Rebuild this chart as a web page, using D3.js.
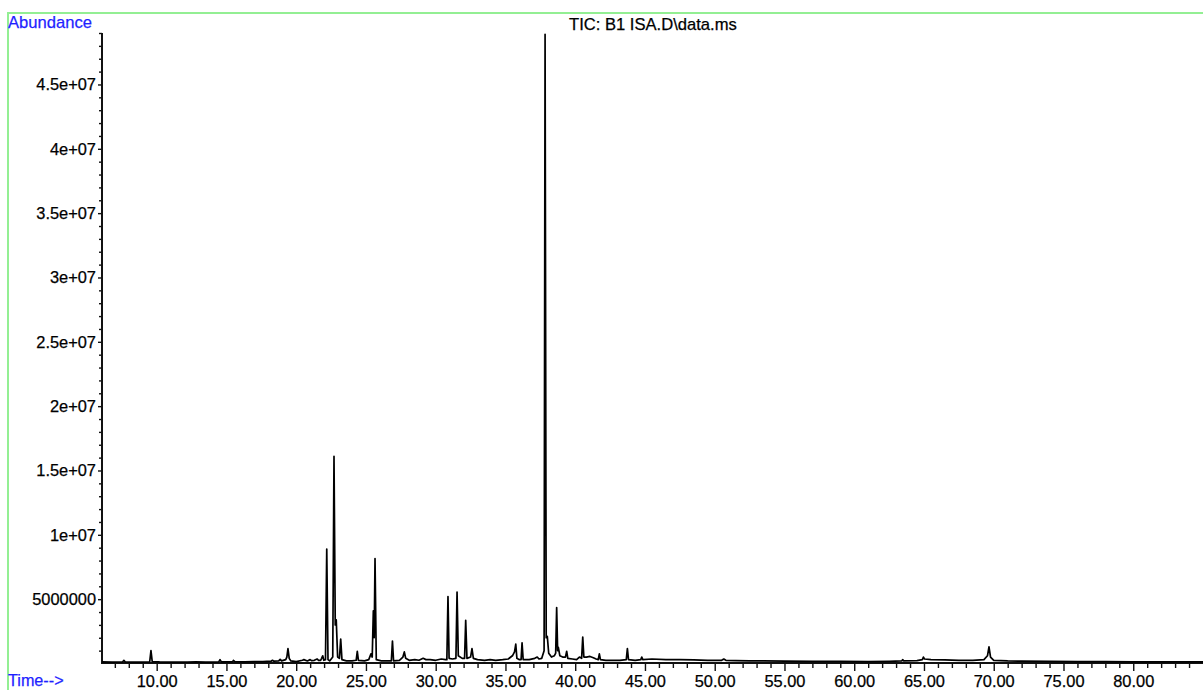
<!DOCTYPE html>
<html>
<head>
<meta charset="utf-8">
<script src="https://cdn.jsdelivr.net/npm/d3@7"></script>
<style>
  html, body { margin: 0; padding: 0; background: #fff; }
  svg { display: block; }
  text { font-family: "Liberation Sans", Arial, sans-serif; }
</style>
</head>
<body>
<svg id="chart" width="1203" height="690"></svg>
<script>
// Retention time (min)
const times = [
  6.08, 6.8, 7.55, 7.65, 7.75, 8.5, 9.0, 9.5, 9.59, 9.68, 10.2, 10.9, 11.5, 12.2, 12.8, 13.5, 14.0,
  14.45, 14.54, 14.63, 15.2, 15.45, 15.5, 15.6, 16.3, 17.0, 17.6, 18.2, 18.3, 18.4, 18.75, 18.85, 18.95,
  19.25, 19.33, 19.41, 19.5, 19.62, 20.0, 20.45, 20.55, 20.8, 21.0, 21.1, 21.3, 21.5, 21.6, 21.75,
  21.82, 21.9, 21.98, 22.1, 22.19, 22.28, 22.4, 22.62, 22.71, 22.8, 22.87, 22.97, 23.1, 23.19, 23.28,
  23.6, 24.0, 24.3, 24.38, 24.46, 24.9, 25.2, 25.36, 25.45, 25.53, 25.59, 25.65, 25.74, 26.1, 26.5,
  26.82, 26.9, 26.98, 27.4, 27.65, 27.75, 27.85, 28.1, 28.5, 28.8, 29.1, 29.3, 29.6, 30.0, 30.4, 30.7,
  30.8, 30.88, 30.96, 31.2, 31.45, 31.53, 31.62, 31.9, 32.07, 32.15, 32.24, 32.5, 32.6, 32.7,
  33.0, 33.5, 33.9, 34.3, 34.8, 35.2, 35.5, 35.65, 35.74, 35.82, 36.0, 36.12, 36.19, 36.27,
  36.7, 37.1, 37.28, 37.4, 37.6, 37.77, 37.84, 37.92, 38.0, 38.1, 38.3, 38.5, 38.6, 38.67, 38.74,
  38.79, 38.9, 39.1, 39.3, 39.39, 39.47, 39.8, 40.1, 40.3, 40.46, 40.54, 40.62, 40.8, 41.06, 41.3,
  41.5, 41.65, 41.73, 41.81, 42.2, 42.7, 43.2, 43.66, 43.74, 43.82, 44.3, 44.7, 44.77, 44.85,
  45.5, 46.5, 47.5, 48.5, 49.5, 50.5, 50.65, 50.8, 51.5, 52.5, 53.5, 55.0, 57.0, 59.0, 61.0, 62.5,
  63.4, 63.47, 63.55, 64.5, 64.88, 64.96, 65.04, 65.5, 66.5, 67.5, 68.5, 69.3, 69.55, 69.66, 69.77,
  70.0, 71.0, 72.0, 74.0, 76.0, 78.0, 80.0, 82.0, 84.0, 85.0
];
// Total ion current abundance
const abundance = [
  120000, 100000, 120000, 250000, 120000, 100000, 110000, 120000, 1000000, 150000, 120000, 110000, 100000, 110000, 120000, 110000, 100000,
  120000, 300000, 120000, 130000, 150000, 250000, 150000, 120000, 150000, 150000, 180000, 250000, 180000, 200000, 320000, 200000,
  300000, 500000, 1150000, 400000, 200000, 150000, 250000, 300000, 200000, 300000, 220000, 250000, 350000, 250000, 250000,
  400000, 600000, 250000, 300000, 8900000, 300000, 200000, 500000, 16100000, 3000000, 3400000, 500000, 400000, 1900000, 300000,
  200000, 200000, 250000, 950000, 250000, 200000, 300000, 750000, 500000, 4100000, 2000000, 8150000, 300000, 200000, 200000,
  200000, 1750000, 200000, 250000, 500000, 900000, 400000, 250000, 300000, 250000, 400000, 300000, 300000, 250000, 350000, 300000,
  300000, 5200000, 400000, 350000, 400000, 5550000, 600000, 400000, 400000, 3350000, 400000, 500000, 1150000, 400000,
  300000, 250000, 300000, 250000, 300000, 350000, 600000, 900000, 1500000, 400000, 300000, 300000, 1600000, 300000,
  300000, 400000, 500000, 350000, 400000, 1000000, 48900000, 2000000, 2100000, 800000, 500000, 600000, 800000, 4350000, 1000000,
  1250000, 600000, 500000, 500000, 950000, 400000, 350000, 300000, 500000, 400000, 2050000, 500000, 500000, 550000, 450000,
  350000, 300000, 750000, 300000, 250000, 250000, 250000, 300000, 1150000, 300000, 250000, 300000, 500000, 300000,
  350000, 300000, 300000, 280000, 250000, 250000, 350000, 250000, 220000, 200000, 200000, 180000, 170000, 160000, 150000, 170000,
  200000, 300000, 200000, 220000, 300000, 500000, 350000, 300000, 280000, 250000, 250000, 300000, 600000, 1300000, 500000,
  250000, 200000, 180000, 160000, 150000, 140000, 130000, 120000, 120000, 120000
];
// Axis ticks
const xMajorTicks = [10, 15, 20, 25, 30, 35, 40, 45, 50, 55, 60, 65, 70, 75, 80];
const xTickLabels = ["10.00", "15.00", "20.00", "25.00", "30.00", "35.00", "40.00", "45.00", "50.00", "55.00", "60.00", "65.00", "70.00", "75.00", "80.00"];
const yMajorTicks = [5000000, 10000000, 15000000, 20000000, 25000000, 30000000, 35000000, 40000000, 45000000];
const yTickLabels = ["5000000", "1e+07", "1.5e+07", "2e+07", "2.5e+07", "3e+07", "3.5e+07", "4e+07", "4.5e+07"];
const titleText = "TIC: B1 ISA.D\\data.ms";

const svg = d3.select("#chart");
const x = d3.scaleLinear().domain([6.08, 85.0]).range([102, 1203]);
const y = d3.scaleLinear().domain([0, 49000000]).range([663.5, 33]);

// green frame
svg.append("path")
  .attr("d", "M8,690 V13 H1203")
  .attr("fill", "none")
  .attr("stroke", "#93ef93")
  .attr("stroke-width", 2);

// minor ticks
const xMinor = d3.range(7, 86, 1).filter(v => v % 5 !== 0);
const yMinor = d3.range(1000000, 49000001, 1000000).filter(v => v % 5000000 !== 0);

const xAxisMinor = d3.axisBottom(x).tickValues(xMinor).tickSize(5).tickFormat("");
const xAxis = d3.axisBottom(x).tickValues(xMajorTicks).tickSize(8).tickPadding(2)
  .tickFormat((d, i) => xTickLabels[i]);
const yAxisMinor = d3.axisLeft(y).tickValues(yMinor).tickSize(3).tickFormat("");
const yAxis = d3.axisLeft(y).tickValues(yMajorTicks).tickSize(4).tickPadding(2)
  .tickFormat((d, i) => yTickLabels[i]);

function styleAxis(g) {
  g.select(".domain").remove();
  g.selectAll("line").attr("stroke", "#111").attr("stroke-width", 1.4);
  g.selectAll("text").attr("fill", "#000").style("font-size", "16.4px")
    .style("font-family", '"Liberation Sans", Arial, sans-serif')
    .attr("stroke", "#000").attr("stroke-width", 0.25);
}

svg.append("g").attr("transform", "translate(0,663)").call(xAxisMinor).call(styleAxis);
const gx = svg.append("g").attr("transform", "translate(0,663)").call(xAxis).call(styleAxis);
gx.selectAll("text").attr("y", 24).attr("dy", 0);

svg.append("g").attr("transform", "translate(102,0)").call(yAxisMinor).call(styleAxis);
svg.append("g").attr("transform", "translate(102,0)").call(yAxis).call(styleAxis);

// axis lines
svg.append("line").attr("x1", 102).attr("x2", 102).attr("y1", 33).attr("y2", 664)
  .attr("stroke", "#111").attr("stroke-width", 2);
svg.append("line").attr("x1", 102).attr("x2", 1203).attr("y1", 663).attr("y2", 663)
  .attr("stroke", "#111").attr("stroke-width", 2);

// chromatogram trace
const pts = times.map((t, i) => [t, abundance[i]]);
const line = d3.line().x(d => x(d[0])).y(d => y(d[1]));
svg.append("path")
  .datum(pts)
  .attr("d", line)
  .attr("fill", "none")
  .attr("stroke", "#000")
  .attr("stroke-width", 1.7)
  .attr("stroke-linejoin", "round");

// labels
svg.append("text").attr("x", 8).attr("y", 28).attr("fill", "#1f1fff")
  .attr("stroke", "#1f1fff").attr("stroke-width", 0.25)
  .style("font-size", "16.6px").text("Abundance");
svg.append("text").attr("x", 8).attr("y", 686).attr("fill", "#1f1fff")
  .attr("stroke", "#1f1fff").attr("stroke-width", 0.25)
  .style("font-size", "16.2px").text("Time-->");
svg.append("text").attr("x", 569).attr("y", 30).attr("fill", "#000")
  .attr("stroke", "#000").attr("stroke-width", 0.25)
  .style("font-size", "16.6px").text(titleText);
</script>
</body>
</html>
